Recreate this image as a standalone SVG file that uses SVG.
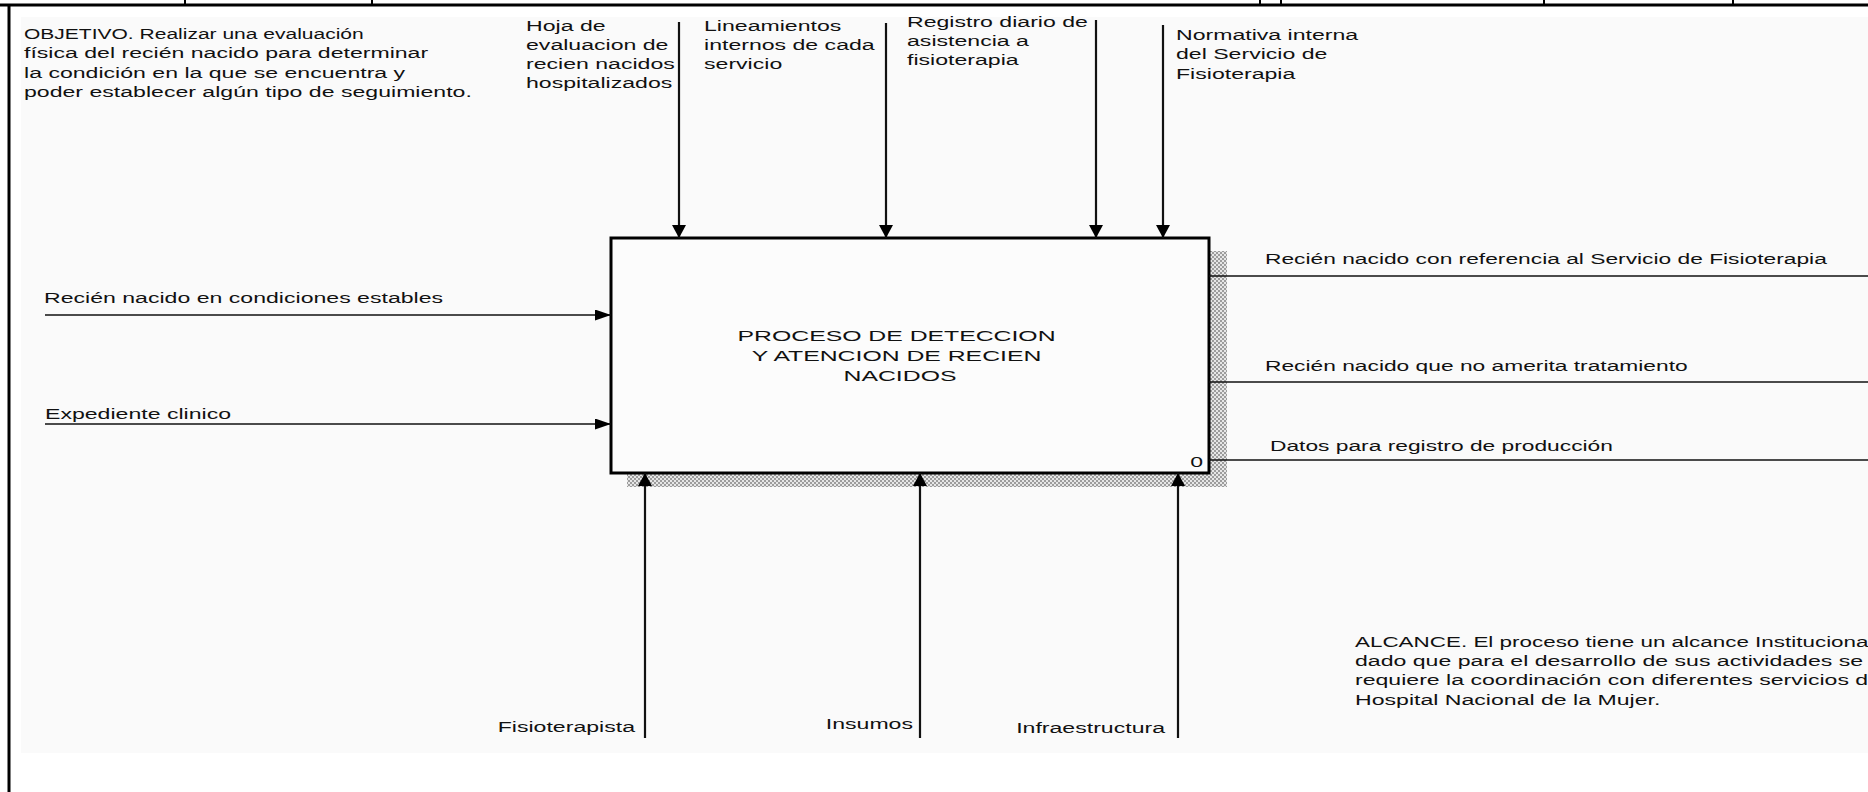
<svg xmlns="http://www.w3.org/2000/svg" width="1868" height="792" viewBox="0 0 1868 792">
  <defs>
    <style>
      .t { font-family: "Liberation Sans", Arial, sans-serif; font-size: 15.5px; fill: #111; }
      .ln { stroke: #111; stroke-width: 1.6; fill: none; }
      .lv { stroke: #111; stroke-width: 2.2; fill: none; }
      .frame { stroke: #000; stroke-width: 3; fill: none; }
    </style>
    <!-- fine dither used for the box drop shadow -->
    <pattern id="hatch" width="4" height="4" patternUnits="userSpaceOnUse">
      <rect width="4" height="4" fill="#e6e6e6"/>
      <rect width="2" height="2" fill="#9c9c9c"/>
      <rect x="2" y="2" width="2" height="2" fill="#9c9c9c"/>
    </pattern>
    <marker id="ahH" markerUnits="userSpaceOnUse" markerWidth="16" markerHeight="11" refX="16" refY="5.5" orient="auto">
      <path d="M0,0 L16,5.5 L0,11 Z" fill="#000"/>
    </marker>
    <marker id="ahV" markerUnits="userSpaceOnUse" markerWidth="13" markerHeight="14" refX="13" refY="7" orient="auto">
      <path d="M0,0 L13,7 L0,14 Z" fill="#000"/>
    </marker>
  </defs>

  <rect width="1868" height="792" fill="#fff"/>

  <!-- sheet frame and header strip -->
  <g id="frame">
    <rect x="21" y="17" width="1847" height="736" fill="#fafafa"/>
    <line class="frame" x1="0" y1="5" x2="1868" y2="5"/>
    <g stroke="#000" stroke-width="2">
      <line x1="185" y1="0" x2="185" y2="5"/>
      <line x1="372" y1="0" x2="372" y2="5"/>
      <line x1="1260" y1="0" x2="1260" y2="5"/>
      <line x1="1281" y1="0" x2="1281" y2="5"/>
      <line x1="1544" y1="0" x2="1544" y2="5"/>
      <line x1="1733" y1="0" x2="1733" y2="5"/>
    </g>
    <line class="frame" x1="9" y1="4" x2="9" y2="792"/>
  </g>

  <!-- objective note -->
  <g id="note-objetivo">
    <text class="t" transform="translate(24,0) scale(1.49,1)">
      <tspan x="0" y="39" textLength="228" lengthAdjust="spacingAndGlyphs">OBJETIVO. Realizar una evaluación</tspan>
      <tspan x="0" y="58.5">física del recién nacido para determinar</tspan>
      <tspan x="0" y="78">la condición en la que se encuentra y</tspan>
      <tspan x="0" y="97.5">poder establecer algún tipo de seguimiento.</tspan>
    </text>
  </g>

  <!-- scope note -->
  <g id="note-alcance">
    <text class="t" transform="translate(1355,0) scale(1.49,1)">
      <tspan x="0" y="647" textLength="348" lengthAdjust="spacingAndGlyphs">ALCANCE. El proceso tiene un alcance Institucional</tspan>
      <tspan x="0" y="666">dado que para el desarrollo de sus actividades se</tspan>
      <tspan x="0" y="685">requiere la coordinación con diferentes servicios del</tspan>
      <tspan x="0" y="705">Hospital Nacional de la Mujer.</tspan>
    </text>
  </g>

  <!-- activity A0 -->
  <g id="node-a0">
    <rect x="627" y="251" width="600" height="236" fill="url(#hatch)"/>
    <rect x="611" y="238" width="598" height="235" fill="#fcfcfc" stroke="#000" stroke-width="3"/>
    <text class="t" text-anchor="middle" transform="translate(900,0) scale(1.6,1)">
      <tspan x="0" y="341">PROCESO DE DETECCION</tspan>
      <tspan x="0" y="361">Y ATENCION DE RECIEN</tspan>
      <tspan x="0" y="381">NACIDOS</tspan>
    </text>
    <text class="t" text-anchor="end" transform="translate(1203,0) scale(1.49,1)" x="0" y="467">0</text>
  </g>

  <!-- arrows: inputs, controls, outputs, mechanisms -->
  <g id="connectors">
    <line class="ln" x1="45" y1="315" x2="611" y2="315" marker-end="url(#ahH)"/>
    <line class="ln" x1="45" y1="424" x2="611" y2="424" marker-end="url(#ahH)"/>

    <line class="lv" x1="679" y1="22" x2="679" y2="238" marker-end="url(#ahV)"/>
    <line class="lv" x1="886" y1="23" x2="886" y2="238" marker-end="url(#ahV)"/>
    <line class="lv" x1="1096" y1="20" x2="1096" y2="238" marker-end="url(#ahV)"/>
    <line class="lv" x1="1163" y1="25" x2="1163" y2="238" marker-end="url(#ahV)"/>

    <line class="ln" x1="1209" y1="276" x2="1868" y2="276"/>
    <line class="ln" x1="1209" y1="382" x2="1868" y2="382"/>
    <line class="ln" x1="1209" y1="460" x2="1868" y2="460"/>

    <line class="lv" x1="645" y1="738" x2="645" y2="473" marker-end="url(#ahV)"/>
    <line class="lv" x1="920" y1="738" x2="920" y2="473" marker-end="url(#ahV)"/>
    <line class="lv" x1="1178" y1="738" x2="1178" y2="473" marker-end="url(#ahV)"/>
  </g>

  <!-- arrow labels -->
  <g id="labels">
    <text class="t" transform="translate(44,0) scale(1.49,1)" x="0" y="303">Recién nacido en condiciones estables</text>
    <text class="t" transform="translate(45,0) scale(1.49,1)" x="0" y="419">Expediente clinico</text>

    <text class="t" transform="translate(526,0) scale(1.49,1)">
      <tspan x="0" y="31">Hoja de</tspan>
      <tspan x="0" y="50">evaluacion de</tspan>
      <tspan x="0" y="69">recien nacidos</tspan>
      <tspan x="0" y="88">hospitalizados</tspan>
    </text>
    <text class="t" transform="translate(704,0) scale(1.49,1)">
      <tspan x="0" y="31">Lineamientos</tspan>
      <tspan x="0" y="50">internos de cada</tspan>
      <tspan x="0" y="69">servicio</tspan>
    </text>
    <text class="t" transform="translate(907,0) scale(1.49,1)">
      <tspan x="0" y="27">Registro diario de</tspan>
      <tspan x="0" y="46">asistencia a</tspan>
      <tspan x="0" y="65">fisioterapia</tspan>
    </text>
    <text class="t" transform="translate(1176,0) scale(1.49,1)">
      <tspan x="0" y="40">Normativa interna</tspan>
      <tspan x="0" y="59.5">del Servicio de</tspan>
      <tspan x="0" y="79">Fisioterapia</tspan>
    </text>

    <text class="t" transform="translate(1265,0) scale(1.47,1)" x="0" y="264">Recién nacido con referencia al Servicio de Fisioterapia</text>
    <text class="t" transform="translate(1265,0) scale(1.47,1)" x="0" y="371">Recién nacido que no amerita tratamiento</text>
    <text class="t" transform="translate(1270,0) scale(1.47,1)" x="0" y="451">Datos para registro de producción</text>

    <text class="t" text-anchor="end" transform="translate(635,0) scale(1.49,1)" x="0" y="732">Fisioterapista</text>
    <text class="t" text-anchor="end" transform="translate(913,0) scale(1.49,1)" x="0" y="729">Insumos</text>
    <text class="t" text-anchor="end" transform="translate(1165,0) scale(1.49,1)" x="0" y="733">Infraestructura</text>
  </g>
</svg>
